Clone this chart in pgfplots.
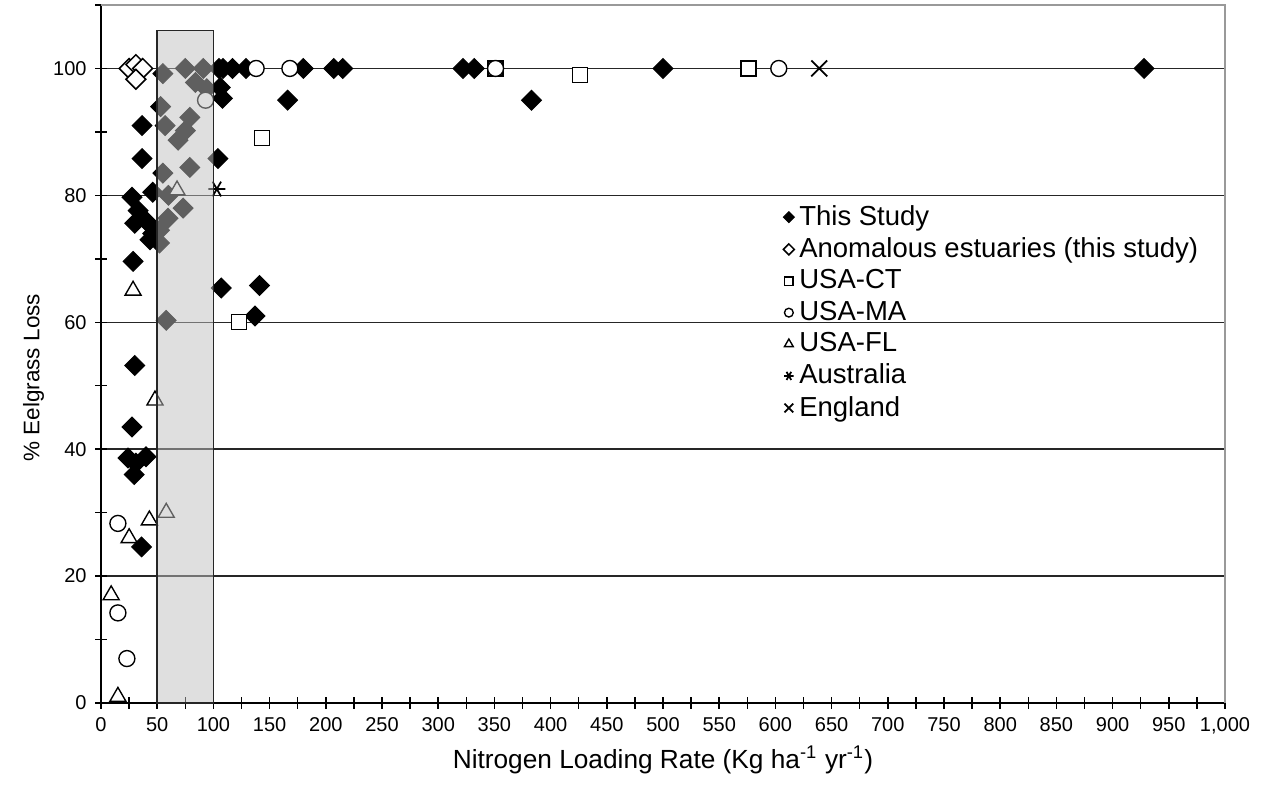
\documentclass[border=0pt]{standalone}
\usepackage{fontspec}
\setmainfont{Liberation Sans}
\usepackage{pgfplots}
\pgfplotsset{compat=1.18}

\begin{document}
\begin{tikzpicture}
\begin{axis}[
  scale only axis,
  width=449.6pt, height=279.2pt,
  xmin=0, xmax=1000, ymin=0, ymax=110,
  axis x line*=bottom, axis y line*=left,
  axis line style={-, black, line width=0.8pt},
  xtick={0,50,...,1000},
  minor x tick num=1,
  ytick={0,20,...,100},
  minor ytick={10,30,...,110},
  tick align=center,
  major tick length=4.5pt, minor tick length=4.5pt,
  tick style={black, line width=0.6pt},
  ymajorgrids,
  major grid style={black!85, line width=0.6pt},
  /pgf/number format/assume math mode=true,
  ticklabel style={font=\fontsize{8}{9}\selectfont},
  xlabel={Nitrogen Loading Rate (Kg ha\textsuperscript{-1} yr\textsuperscript{-1})},
  ylabel={\% Eelgrass Loss},
  xlabel style={font=\fontsize{10.5}{12}\selectfont, yshift=2pt},
  ylabel style={font=\fontsize{9}{11}\selectfont, at={(ticklabel cs:0.466)}},
  ylabel shift=-3.2pt,
  clip=false,
  legend style={at={(rel axis cs:0.6,0.728)}, anchor=north west, draw=none, fill=none,
    font=\fontsize{11}{13}\selectfont, row sep=-0.6pt,
    /tikz/every odd column/.append style={column sep=0pt}},
  legend cell align=left,
  legend image code/.code={\draw[#1] plot coordinates {(0.08cm,0cm)};},
  legend image post style={/tikz/every mark/.append style={scale=0.55}},
]
% This Study
\addplot[only marks, mark=square*, mark size=2.8pt, mark options={rotate=45}, draw=black, fill=black] coordinates {
  (55,99.2) (75,100) (91,100) (105,100) (108.5,100) (117,100) (129,100) (180,100)
  (207,100) (215,100) (322,100) (332,100) (500,100) (928,100)
  (84,97.8) (94,96.8) (106,97) (108,95.3) (166,95) (383,95)
  (53,94) (36.5,91) (57,91) (79,92.3) (75,90.2) (68.5,88.7) (36.5,85.8) (55,83.5)
  (79,84.4) (104,85.8) (46,80.5) (27.6,79.7) (60,80) (73,78) (59.6,76.4) (33,77.6)
  (41,75.8) (30,75.6) (46,74) (43.6,73) (52,74.5) (52,72.5)
  (28.5,69.6) (107,65.4) (141,65.8) (137,61) (58,60.3) (30,53.2) (27.6,43.5)
  (24,38.6) (40,38.8) (31,37.8) (29.5,36) (36,24.6)
};
\addlegendentry{This Study}
% Anomalous estuaries
\addplot[only marks, mark=square*, mark size=2.8pt, mark options={rotate=45}, draw=black, fill=white, line width=0.6pt] coordinates {
  (25,100) (31,100.6) (37,100) (31,98.3)
};
\addlegendentry{Anomalous estuaries (this study)}
% USA-CT
\addplot[only marks, mark=square*, mark size=3pt, draw=black, fill=white, line width=0.55pt] coordinates {
  (351,100) (426,99) (576,100) (143,89) (123,60)
};
\addlegendentry{USA-CT}
% USA-MA
\addplot[only marks, mark=*, mark size=3.2pt, draw=black, fill=white, line width=0.55pt] coordinates {
  (138,100) (168,100) (351,100) (603,100) (93,95) (15,28.3) (15,14.2) (23,7)
};
\addlegendentry{USA-MA}
% USA-FL
\addplot[only marks, mark=triangle*, mark size=3.7pt, draw=black, fill=white, line width=0.55pt] coordinates {
  (67.6,80.8) (28.5,65) (48,47.7) (43,28.8) (58,30) (25,26) (9,17) (15,1)
};
\addlegendentry{USA-FL}
% Australia
\addplot[only marks, mark=asterisk, mark size=3.4pt, mark options={rotate=90}, draw=black, line width=0.7pt] coordinates {
  (103,81)
};
\addlegendentry{Australia}
% England
\addplot[only marks, mark=x, mark size=4.5pt, draw=black, line width=0.7pt] coordinates {
  (639,100)
};
\addlegendentry{England}
\coordinate (bandA) at (axis cs:50,0);
\coordinate (bandB) at (axis cs:100,106);
\draw[black!40, line width=0.8pt] (rel axis cs:0,1) -- (rel axis cs:1,1) -- (rel axis cs:1,0);
\path (rel axis cs:-0.0899,-0.1189) rectangle (rel axis cs:1.0454,1.0072);
\end{axis}
% shaded 50-100 band, laid over the marks
\filldraw[fill=black!25, fill opacity=0.5, draw=black!85, line width=0.7pt] (bandA) rectangle (bandB);
\end{tikzpicture}
\end{document}
